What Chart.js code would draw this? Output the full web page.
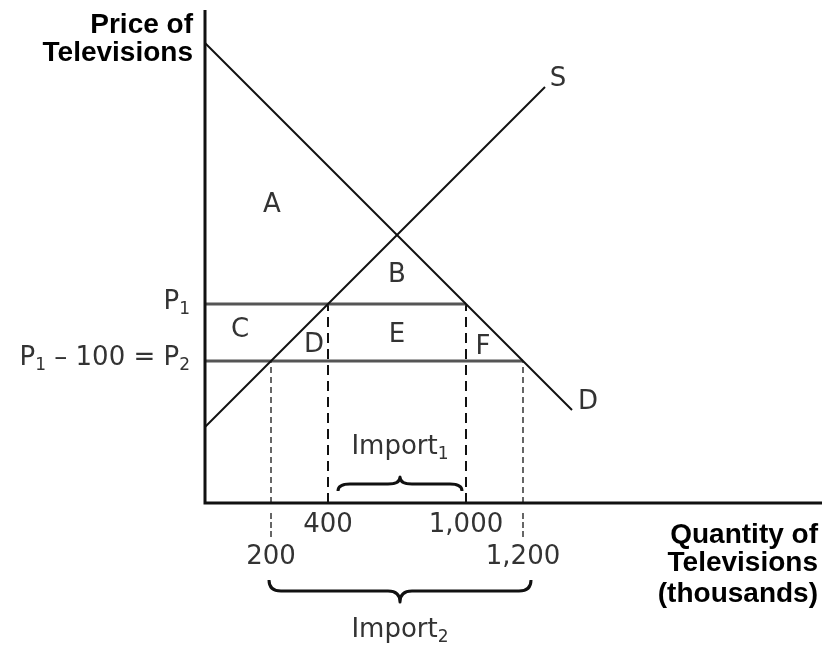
<!DOCTYPE html>
<html>
<head>
<meta charset="utf-8">
<script src="https://cdn.jsdelivr.net/npm/chart.js@4.4.1/dist/chart.umd.min.js"></script>
<style>
  html, body { margin: 0; padding: 0; background: #fff; }
  #wrap { width: 822px; height: 649px; }
</style>
</head>
<body>
<div id="wrap"><canvas id="chart" width="822" height="649"></canvas></div>
<script>
// diagram units, origin at the corner of the axes (schematic, not to scale)
const demandQ = [0, 36.7];
const demandP = [46.0, 9.3];
const supplyQ = [0, 34.0];
const supplyP = [7.6, 41.6];
const priceLevels = [19.9, 14.2];                 // P1, P2 = P1 - 100
const quantityTicks = ['200', '400', '1,000', '1,200'];
const quantityPos = [6.6, 12.3, 26.1, 31.8];
const quantityPrice = [14.2, 19.9, 19.9, 14.2];    // where each dashed guide meets its price line
const axisTop = 49.3;
const axisRight = 61.7;

const ink = '#111';
const soft = '#333';
const regFont = '26px "DejaVu Sans", sans-serif';
const subFont = '17px "DejaVu Sans", sans-serif';
const boldFont = 'bold 28px "Liberation Sans", Arial, sans-serif';

function pts(xs, ys) {
    return xs.map((x, i) => ({ x: x, y: ys[i] }));
}

function seg(data, color, width, dash) {
    return {
        data: data,
        showLine: true,
        borderColor: color,
        borderWidth: width,
        borderDash: dash || [],
        pointRadius: 0,
        fill: false,
        clip: false
    };
}

const datasets = [
    seg([{ x: 0, y: axisTop }, { x: 0, y: 0 }, { x: axisRight, y: 0 }], ink, 3),
    seg(pts(demandQ, demandP), ink, 2),
    seg(pts(supplyQ, supplyP), ink, 2),
    seg([{ x: 0, y: priceLevels[0] }, { x: quantityPos[2], y: priceLevels[0] }], '#555', 3),
    seg([{ x: 0, y: priceLevels[1] }, { x: quantityPos[3], y: priceLevels[1] }], '#555', 3)
];

// dashed guides from the axis up to the price lines
quantityPos.forEach((q, i) => {
    const outer = (i === 0 || i === 3);
    datasets.push(seg([{ x: q, y: 0 }, { x: q, y: quantityPrice[i] }],
        outer ? '#666' : ink, 2, outer ? [6, 4] : [10, 6]));
    if (outer) {
        datasets.push(seg([{ x: q, y: -1.0 }, { x: q, y: -3.7 }], '#666', 2, [6, 3]));
    }
});

function drawParts(ctx, parts, x, y, align) {
    let total = 0;
    parts.forEach(p => {
        ctx.font = p[1] ? subFont : regFont;
        total += ctx.measureText(p[0]).width;
    });
    let cx = align === 'right' ? x - total : (align === 'center' ? x - total / 2 : x);
    ctx.textAlign = 'left';
    parts.forEach(p => {
        ctx.font = p[1] ? subFont : regFont;
        ctx.fillText(p[0], cx, p[1] ? y + 8 : y);
        cx += ctx.measureText(p[0]).width;
    });
}

function brace(ctx, x1, x2, y0, depth) {
    const xm = (x1 + x2) / 2;
    const r = Math.min(12, (x2 - x1) / 8);
    const ym = y0 + depth / 2;
    const yt = y0 + depth;
    ctx.beginPath();
    ctx.moveTo(x1, y0);
    ctx.quadraticCurveTo(x1, ym, x1 + r, ym);
    ctx.lineTo(xm - r, ym);
    ctx.quadraticCurveTo(xm, ym, xm, yt);
    ctx.quadraticCurveTo(xm, ym, xm + r, ym);
    ctx.lineTo(x2 - r, ym);
    ctx.quadraticCurveTo(x2, ym, x2, y0);
    ctx.stroke();
}

const textPlugin = {
    id: 'diagramText',
    afterDraw(chart) {
        const ctx = chart.ctx;
        const xs = chart.scales.x, ys = chart.scales.y;
        const X = v => xs.getPixelForValue(v);
        const Y = v => ys.getPixelForValue(v);
        ctx.save();
        ctx.textBaseline = 'middle';

        // axis titles
        ctx.fillStyle = '#000';
        ctx.font = boldFont;
        ctx.textAlign = 'right';
        ctx.fillText('Price of', X(-1.2), Y(47.8));
        ctx.fillText('Televisions', X(-1.2), Y(45.0));
        ctx.fillText('Quantity of', X(61.3), Y(-3.2));
        ctx.fillText('Televisions', X(61.3), Y(-6.0));
        ctx.fillText('(thousands)', X(61.3), Y(-9.1));

        // price labels
        ctx.fillStyle = soft;
        drawParts(ctx, [['P', false], ['1', true]], X(-1.5), Y(priceLevels[0] + 0.2), 'right');
        drawParts(ctx, [['P', false], ['1', true], [' \u2013 100 = P', false], ['2', true]],
            X(-1.5), Y(priceLevels[1] + 0.3), 'right');

        // area letters and curve names
        ctx.font = regFont;
        ctx.textAlign = 'center';
        [['A', 6.7, 29.8], ['B', 19.2, 22.8], ['C', 3.5, 17.3], ['D', 10.9, 15.8],
         ['E', 19.2, 16.8], ['F', 27.8, 15.6], ['S', 35.3, 42.4], ['D', 38.3, 10.1]]
            .forEach(t => ctx.fillText(t[0], X(t[1]), Y(t[2])));

        // quantity tick labels
        quantityTicks.forEach((lab, i) => {
            const outer = (i === 0 || i === 3);
            ctx.fillText(lab, X(quantityPos[i]), Y(outer ? -5.4 : -2.2));
        });

        // import braces
        ctx.strokeStyle = ink;
        ctx.lineWidth = 3;
        ctx.lineJoin = 'round';
        brace(ctx, X(quantityPos[1] + 1.0), X(quantityPos[2] - 0.4), Y(1.2), -14);
        brace(ctx, X(quantityPos[0] - 0.2), X(quantityPos[3] + 0.8), Y(-7.7), 22);

        ctx.fillStyle = soft;
        drawParts(ctx, [['Import', false], ['1', true]], X(19.5), Y(5.6), 'center');
        drawParts(ctx, [['Import', false], ['2', true]], X(19.5), Y(-12.7), 'center');
        ctx.restore();
    }
};

new Chart(document.getElementById('chart'), {
    type: 'scatter',
    data: { datasets: datasets },
    options: {
        responsive: false,
        animation: false,
        devicePixelRatio: 1,
        layout: { padding: 0 },
        scales: {
            x: { type: 'linear', min: -20.5, max: 61.7, display: false },
            y: { type: 'linear', min: -14.6, max: 50.3, display: false }
        },
        plugins: {
            legend: { display: false },
            tooltip: { enabled: false }
        }
    },
    plugins: [textPlugin]
});
</script>
</body>
</html>
